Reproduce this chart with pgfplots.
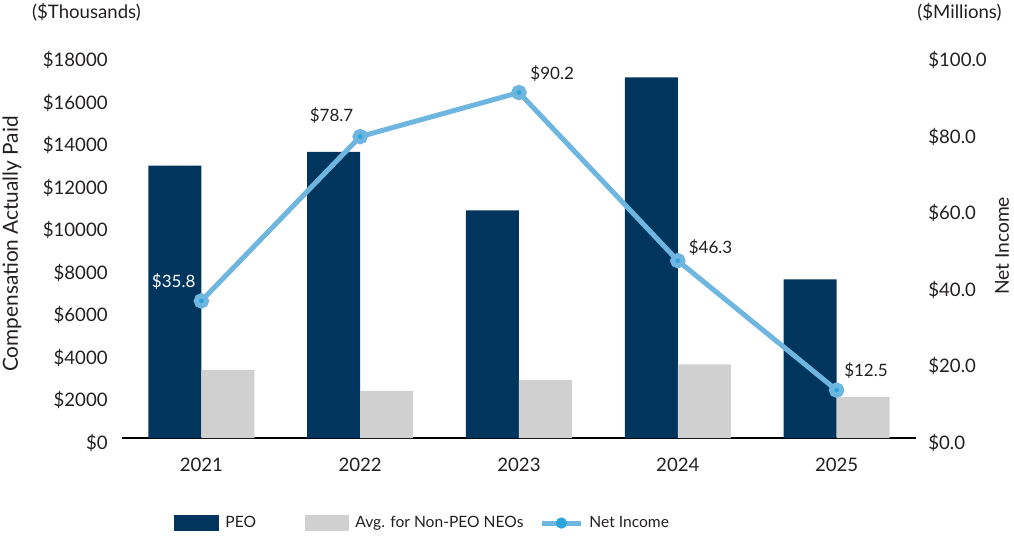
\documentclass[border=0pt]{standalone}
\usepackage{fontspec}
\setmainfont{Lato}
\usepackage{pgfplots}
\pgfplotsset{compat=1.18}

\definecolor{peo}{RGB}{0,54,94}
\definecolor{neo}{RGB}{207,208,207}
\definecolor{niline}{RGB}{110,182,224}
\definecolor{nimark}{RGB}{44,164,220}
\definecolor{txt}{RGB}{35,31,32}

\pgfplotsset{
    common/.style={
        at={(61pt,50pt)}, anchor=south west,
        scale only axis,
        width=397pt, height=191.5pt,
        xmin=-0.5, xmax=4.5,
        enlarge x limits=false,
        /pgf/number format/assume math mode=true,
        major tick length=0pt,
        tick label style={font=\fontsize{9.3}{11}\selectfont, text=txt},
    },
}

\begin{document}
\begin{tikzpicture}[font=\fontsize{9.3}{11}\selectfont, text=txt]
\useasboundingbox (0,0) rectangle (507pt,269pt);

% bars, left axis in $ thousands
\begin{axis}[
    common,
    ybar=0pt, bar width=26.5pt,
    ymin=0, ymax=18000,
    ytick={0,2000,...,18000},
    scaled y ticks=false,
    yticklabel={\$\pgfmathprintnumber[fixed,precision=0,1000 sep={}]{\tick}},
    yticklabel style={anchor=east, inner sep=0pt, xshift=-7pt, yshift=-2.5pt},
    xtick={0,1,2,3,4},
    xticklabels={2021,2022,2023,2024,2025},
    xticklabel style={anchor=north, inner sep=0pt, yshift=-10pt},
    axis x line*=bottom, axis y line*=left,
    x axis line style={-, line width=0.8pt, black},
    y axis line style={draw=none},
    legend columns=3,
    legend cell align=left,
    legend style={at={(axis description cs:0.0655,-0.222)}, anchor=west,
        draw=none, fill=none, inner sep=0pt, row sep=0pt, column sep=0pt,
        nodes={inner sep=0pt},
        font=\fontsize{7.8}{9.5}\selectfont,
        /tikz/every odd column/.style={column sep=3pt}},
]
\addplot[fill=peo, draw=none, bar shift=-13.25pt,
    legend image code/.code={\fill[peo] (0pt,-4pt) rectangle (22.5pt,4pt);}]
    coordinates {(0,12800) (1,13450) (2,10700) (3,16950) (4,7450)};
\addlegendentry{\makebox[40pt][l]{PEO}}
\addplot[fill=neo, draw=none, bar shift=13.25pt,
    legend image code/.code={\fill[neo] (0pt,-4pt) rectangle (22pt,4pt);}]
    coordinates {(0,3200) (1,2210) (2,2730) (3,3460) (4,1930)};
\addlegendentry{\makebox[92pt][l]{Avg. for Non-PEO NEOs}}
\addlegendimage{legend image code/.code={
    \draw[niline, line width=2.5pt] (0pt,0pt) -- (19.5pt,0pt);
    \fill[nimark] (9.75pt,0pt) circle (2.6pt);}}
\addlegendentry{Net Income}
\end{axis}

% line, right axis in $ millions
\begin{axis}[
    common,
    ymin=0, ymax=100,
    ytick={0,20,...,100},
    yticklabel={\$\pgfmathprintnumber[fixed,fixed zerofill,precision=1]{\tick}},
    yticklabel style={anchor=west, inner sep=0pt, xshift=6pt, yshift=-2.5pt},
    axis y line*=right, axis x line=none,
    y axis line style={draw=none},
]
\addplot[niline, line width=2.5pt, mark=*, mark size=2.6pt,
    mark options={fill=nimark, draw=none}]
    coordinates {(0,35.8) (1,78.7) (2,90.2) (3,46.3) (4,12.5)};
\begin{scope}[every node/.style={font=\fontsize{8.5}{10}\selectfont}]
\node[text=white, xshift=-13.85pt, yshift=9.5pt] at (axis cs:0,35.8) {\$35.8};
\node[xshift=-14.3pt, yshift=10.3pt] at (axis cs:1,78.7) {\$78.7};
\node[xshift=16.6pt, yshift=9.6pt] at (axis cs:2,90.2) {\$90.2};
\node[xshift=16.4pt, yshift=6.6pt] at (axis cs:3,46.3) {\$46.3};
\node[xshift=14.7pt, yshift=10pt] at (axis cs:4,12.5) {\$12.5};
\end{scope}
\end{axis}

% axis titles
\node at (43.25pt,263pt) {(\$Thousands)};
\node at (479.75pt,263pt) {(\$Millions)};
\node[rotate=90, font=\fontsize{10.4}{12}\selectfont] at (6pt,147pt) {Compensation Actually Paid};
\node[rotate=90, font=\fontsize{9.6}{11}\selectfont] at (501pt,146pt) {Net Income};
\end{tikzpicture}
\end{document}
